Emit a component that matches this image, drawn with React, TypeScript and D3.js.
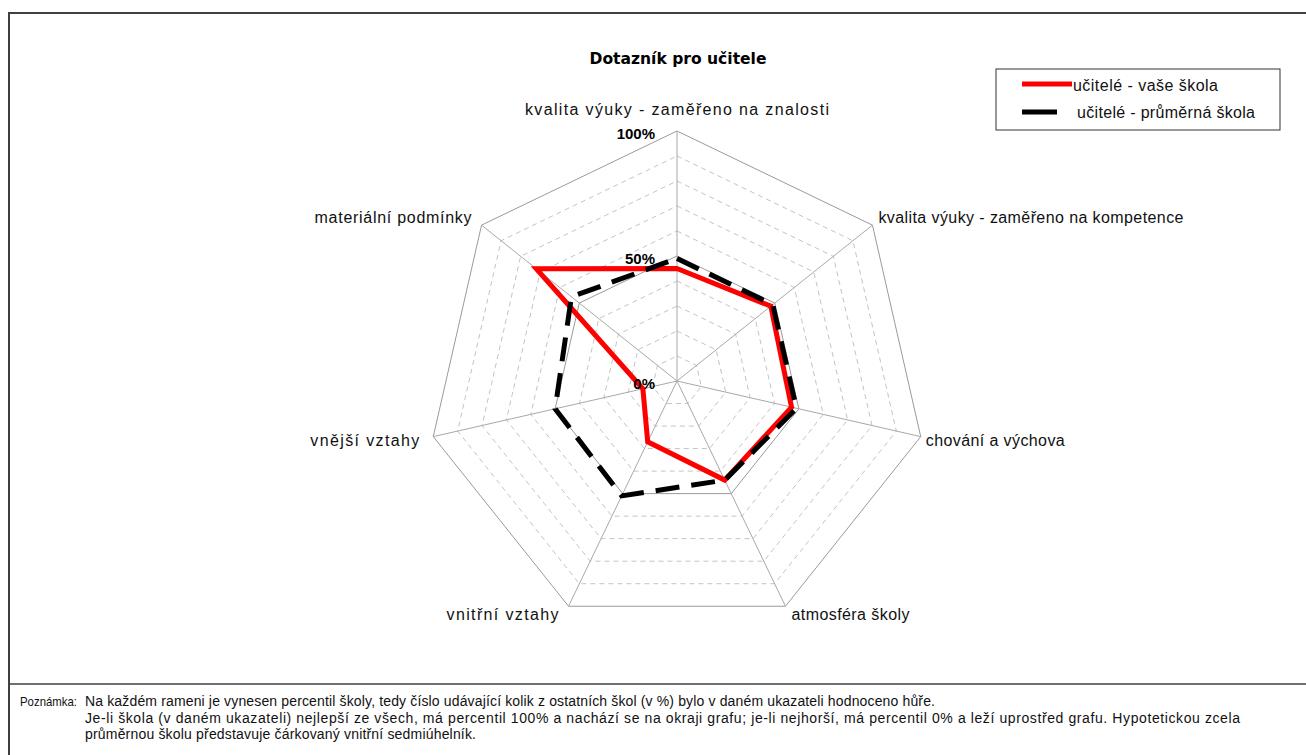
import * as d3 from 'd3'

// categories (clockwise from the top)
const CATEGORIES = [
  'kvalita výuky - zaměřeno na znalosti',
  'kvalita výuky - zaměřeno na kompetence',
  'chování a výchova',
  'atmosféra školy',
  'vnitřní vztahy',
  'vnější vztahy',
  'materiální podmínky',
]

// percentiles
const SCHOOL = [45, 48, 47, 44, 27, 14, 72]
const AVERAGE = [49, 49, 49, 44, 51, 50, 54]

const RING_TICKS = [10, 20, 30, 40, 50, 60, 70, 80, 90, 100]
const MAJOR_TICKS = [0, 50, 100]

const SERIES_NAMES = ['učitelé - vaše škola', 'učitelé - průměrná škola']

const TITLE = 'Dotazník pro učitele'
const NOTE_LABEL = 'Poznámka:'
const NOTE_LINES = [
  'Na každém rameni je vynesen percentil školy, tedy číslo udávající kolik z ostatních škol (v %) bylo v daném ukazateli hodnoceno hůře.',
  'Je-li škola (v daném ukazateli) nejlepší ze všech, má percentil 100% a nachází se na okraji grafu; je-li nejhorší, má percentil 0% a leží uprostřed grafu. Hypotetickou zcela',
  'průměrnou školu představuje čárkovaný vnitřní sedmiúhelník.',
]

// text widths in the reference (px), used to space the text like the original
const LABEL_W = [304, 305, 139, 118, 112, 109, 157]
const NOTE_W = [850, 1155, 391]
const LEGEND_W = [145, 178]

const W = 1306
const H = 755
const FONT = '"Liberation Sans", Arial, sans-serif'

export default function App() {
  const cx = 677
  const cy = 381
  const R = 250
  const n = CATEGORIES.length

  const r = d3.scaleLinear().domain([0, 100]).range([0, R])
  const angle = (i: number) => (i * 2 * Math.PI) / n
  const pt = (i: number, v: number) => [r(v) * Math.sin(angle(i)), -r(v) * Math.cos(angle(i))]

  const ring = d3
    .lineRadial<number>()
    .angle((_, i) => angle(i))
    .radius((d) => r(d))
    .curve(d3.curveLinearClosed)

  const ringPath = (v: number) => ring(CATEGORIES.map(() => v)) || ''

  // label offsets by direction
  const labelPos = (i: number) => {
    const s = Math.sin(angle(i))
    const c = Math.cos(angle(i))
    const [x, y] = pt(i, 100)
    const anchor = Math.abs(s) < 0.1 ? 'middle' : s > 0 ? 'start' : 'end'
    let dx = Math.abs(s) < 0.1 ? 0 : s > 0 ? 6 : -10
    if (Math.abs(s) > 0.9) dx = s > 0 ? 5 : -14
    const dy = c > 0.9 ? -22 : c > 0.3 ? -8 : c > -0.5 ? 4 : 8
    return { x: x + dx, y: y + dy, anchor }
  }

  return (
    <svg
      width={W}
      height={H}
      style={{ position: 'fixed', left: 0, top: 0, background: '#fff' }}
      fontFamily={FONT}
    >
      <rect width={W} height={H} fill="#fff" />
      {/* frame */}
      <path d={`M9,${H} V13 H${W}`} fill="none" stroke="#404040" strokeWidth={2} />
      <line x1={9} x2={W} y1={684} y2={684} stroke="#404040" strokeWidth={1.5} />

      <text x={cx + 1} y={59} textAnchor="middle" dominantBaseline="central" fontFamily='"DejaVu Sans", Verdana, sans-serif' fontWeight="bold" fontSize={15} textLength={177} lengthAdjust="spacingAndGlyphs">
        {TITLE}
      </text>

      <g transform={`translate(${cx},${cy})`}>
        {/* rings */}
        {RING_TICKS.map((t) => (
          <path
            key={t}
            d={ringPath(t)}
            fill="none"
            stroke={t % 50 === 0 ? '#9a9a9a' : '#c4c4c4'}
            strokeWidth={1}
            strokeDasharray={t % 50 === 0 ? undefined : '5 4'}
          />
        ))}
        {/* spokes */}
        {CATEGORIES.map((c, i) => {
          const [x, y] = pt(i, 100)
          return <line key={c} x1={0} y1={0} x2={x} y2={y} stroke="#a8a8a8" strokeWidth={1} />
        })}

        {/* series */}
        <path d={ring(SCHOOL) || ''} fill="none" stroke="#ff0000" strokeWidth={5} strokeLinejoin="miter" />
        <path d={ring(AVERAGE) || ''} fill="none" stroke="#000" strokeWidth={5} strokeDasharray="24 12" strokeLinejoin="miter" />

        {/* value axis labels */}
        {MAJOR_TICKS.map((t) => (
          <text key={t} x={-22} y={-r(t) + 2} textAnchor="end" dominantBaseline="central" fontWeight="bold" fontSize={15}>
            {t}%
          </text>
        ))}

        {/* category labels */}
        {CATEGORIES.map((c, i) => {
          const p = labelPos(i)
          return (
            <text key={c} x={p.x} y={p.y} textAnchor={p.anchor} dominantBaseline="central" fontSize={16} fill="#111" textLength={LABEL_W[i]} lengthAdjust="spacing">
              {c}
            </text>
          )
        })}
      </g>

      {/* legend */}
      <g transform="translate(996,69)">
        <rect width={284} height={61} fill="#fff" stroke="#333" strokeWidth={1} />
        <line x1={26} x2={76} y1={15} y2={15} stroke="#ff0000" strokeWidth={5} />
        <line x1={26} x2={61} y1={43} y2={43} stroke="#000" strokeWidth={5} />
        {SERIES_NAMES.map((s, i) => (
          <text key={s} x={i === 0 ? 77 : 81} y={i === 0 ? 16 : 43} dominantBaseline="central" fontSize={16} fill="#111" textLength={LEGEND_W[i]} lengthAdjust="spacing">
            {s}
          </text>
        ))}
      </g>

      {/* note */}
      <text x={20} y={701} dominantBaseline="central" fontSize={13} fill="#111" textLength={57} lengthAdjust="spacingAndGlyphs">
        {NOTE_LABEL}
      </text>
      {NOTE_LINES.map((l, i) => (
        <text key={i} x={85} y={701 + i * 16.5} dominantBaseline="central" fontSize={14} fill="#111" textLength={NOTE_W[i]} lengthAdjust="spacing">
          {l}
        </text>
      ))}
    </svg>
  )
}
